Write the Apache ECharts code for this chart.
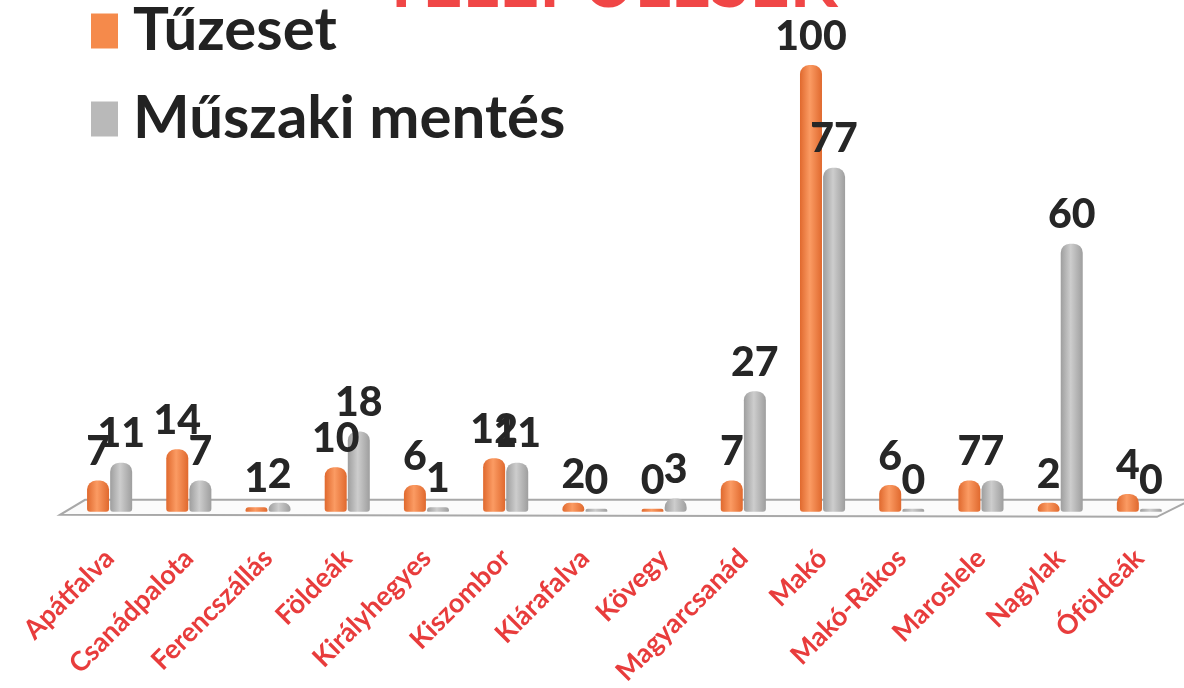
<!DOCTYPE html>
<html>
<head>
<meta charset="utf-8">
<script src="https://cdn.jsdelivr.net/npm/echarts@6/dist/echarts.min.js"></script>
<style>
html,body{margin:0;padding:0;background:#fff;}
#main{width:1184px;height:688px;}
</style>
</head>
<body>
<div id="main"></div>
<script>
const titleText = 'TELEPÜLÉSEK';
const categories = ['Apátfalva','Csanádpalota','Ferencszállás','Földeák','Királyhegyes','Kiszombor','Klárafalva','Kövegy','Magyarcsanád','Makó','Makó-Rákos','Maroslele','Nagylak','Óföldeák'];
const seriesNames = ['Tűzeset','Műszaki mentés'];
const tuzeset = [7,14,1,10,6,12,2,0,7,100,6,7,2,4];
const muszaki = [11,7,2,18,1,11,0,3,27,77,0,7,60,0];

const chart = echarts.init(document.getElementById('main'));
const FONT = 'Lato';

function cyl(edge, mid){
  return new echarts.graphic.LinearGradient(0,0,1,0,[
    {offset:0,color:edge},{offset:0.45,color:mid},{offset:1,color:edge}
  ]);
}

const labelStyle = {
  show:true, position:'top', distance:8,
  fontFamily:FONT, fontWeight:900, fontSize:41, color:'#262626'
};

chart.setOption({
  animation:false,
  backgroundColor:'#fff',
  title:{
    text:titleText, left:604, top:-56, textAlign:'center',
    textStyle:{color:'#f04646', fontFamily:FONT, fontWeight:'bold', fontSize:70}
  },
  legend:{
    orient:'vertical', left:86, top:-4, itemWidth:27, itemHeight:35, itemGap:28,
    icon:'rect',
    textStyle:{fontFamily:FONT, fontWeight:'bold', fontSize:60, color:'#222', padding:[0,0,0,10]},
    data:[
      {name:seriesNames[0], itemStyle:{color:'#f58a4b'}},
      {name:seriesNames[1], itemStyle:{color:'#b9b9b9'}}
    ]
  },
  grid:{left:70, right:5, top:65, bottom:176, containLabel:false},
  xAxis:{
    type:'category', data:categories,
    axisLine:{show:false}, axisTick:{show:false},
    axisLabel:{rotate:45, margin:42, interval:0, color:'#e83c3c',
      fontFamily:FONT, fontWeight:'bold', fontSize:27}
  },
  yAxis:{type:'value', min:0, max:100, show:false, splitLine:{show:false}},
  series:[
    {name:seriesNames[0], type:'bar', data:tuzeset, barWidth:22, barGap:'5%', barMinHeight:3, z:3,
      itemStyle:{color:cyl('#e0692e','#fb9b63'), borderRadius:[9,9,3,3]},
      label:labelStyle},
    {name:seriesNames[1], type:'bar', data:muszaki, barWidth:22, barMinHeight:3, z:3,
      itemStyle:{color:cyl('#9e9e9e','#cdcdcd'), borderRadius:[9,9,3,3]},
      label:labelStyle}
  ]
});

// floor plane derived from the axis scales
const y0 = chart.convertToPixel({yAxisIndex:0}, 0);
const xA = chart.convertToPixel({xAxisIndex:0}, categories[0]);
const xB = chart.convertToPixel({xAxisIndex:0}, categories[categories.length-1]);
const band = (xB - xA) / (categories.length - 1);
const L = xA - band/2, R = xB + band/2;
chart.setOption({
  graphic:[{
    type:'polygon', z:0,
    shape:{points:[[L+15,y0-12],[R+12,y0-12],[R-22,y0+5],[L-10,y0+3]]},
    style:{fill:'#fbfbfb', stroke:'#a8a8a8', lineWidth:2}
  }]
});
</script>
</body>
</html>
